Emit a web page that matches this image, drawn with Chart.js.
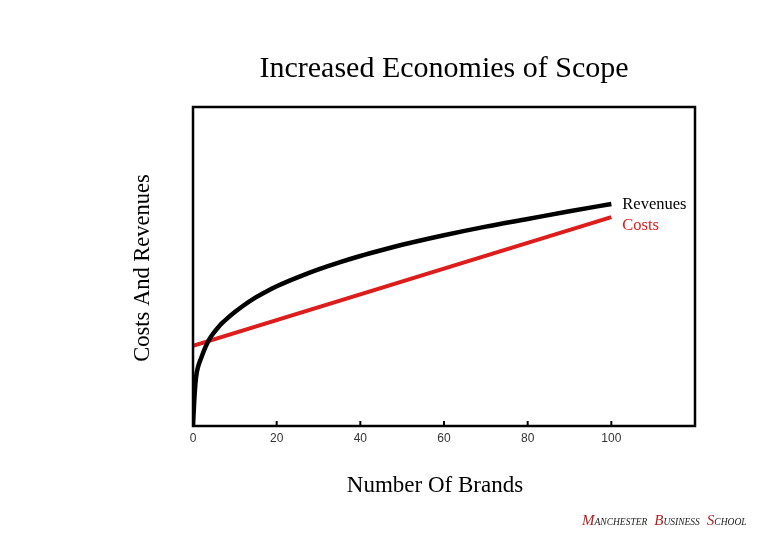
<!DOCTYPE html>
<html><head><meta charset="utf-8">
<script src="https://cdn.jsdelivr.net/npm/chart.js@4.4.1/dist/chart.umd.min.js"></script>
<style>html,body{margin:0;padding:0;background:#fff}#w{width:780px;height:540px}</style>
</head><body><div id="w"><canvas id="c" width="780" height="540"></canvas></div>
<script>
const brands = [0, 0.3, 0.7, 1.2, 2, 3, 4, 5, 6, 7, 8, 10, 12, 15, 18, 20, 25, 30, 35, 40, 45, 50, 60, 70, 80, 90, 100];
const revenues = [0, 8, 15, 18.5, 21.5, 24.8, 27.4, 29.3, 30.9, 32.3, 33.5, 35.7, 37.7, 40.3, 42.5, 43.8, 46.6, 49.1, 51.3, 53.3, 55.1, 56.8, 59.8, 62.5, 64.9, 67.3, 69.6];
const costBrands = [0, 100];
const costs = [25.1, 65.5];
const xTicks = [0, 20, 40, 60, 80, 100];
const titleText = "Increased Economies of Scope";
const xTitle = "Number Of Brands";
const yTitle = "Costs And Revenues";
const seriesNames = ["Revenues", "Costs"];
const RED = "#dd1c1c";

const deco = {
  id: 'deco',
  afterDraw(chart) {
    const ctx = chart.ctx, a = chart.chartArea, xs = chart.scales.x;
    ctx.save();
    ctx.strokeStyle = '#000'; ctx.lineWidth = 2.5;
    ctx.strokeRect(a.left, a.top, a.right - a.left, a.bottom - a.top);
    ctx.lineWidth = 2;
    xTicks.forEach(v => { const px = xs.getPixelForValue(v); ctx.beginPath(); ctx.moveTo(px, a.bottom); ctx.lineTo(px, a.bottom - 5); ctx.stroke(); });
    ctx.fillStyle = '#000';
    ctx.textAlign = 'center'; ctx.textBaseline = 'middle';
    ctx.font = '30px "Liberation Serif"';
    ctx.fillText(titleText, (a.left + a.right) / 2, 69);
    ctx.font = '23px "Liberation Serif"';
    ctx.fillText(xTitle, 435, 486);
    ctx.font = '22.5px "Liberation Serif"';
    ctx.save(); ctx.translate(143, 268); ctx.rotate(-Math.PI / 2);
    ctx.fillText(yTitle, 0, 0); ctx.restore();
    // series labels
    const ys = chart.scales.y;
    ctx.textAlign = 'left';
    ctx.font = '16.5px "Liberation Serif"';
    ctx.fillStyle = '#000';
    ctx.fillText(seriesNames[0], xs.getPixelForValue(100) + 11, ys.getPixelForValue(revenues[revenues.length - 1]) + 1);
    ctx.fillStyle = RED;
    ctx.fillText(seriesNames[1], xs.getPixelForValue(100) + 11, ys.getPixelForValue(costs[costs.length - 1]) + 9);
    // footer
    let x = 582; const yb = 525;
    ctx.textBaseline = 'alphabetic';
    [["M", "ANCHESTER"], ["B", "USINESS"], ["S", "CHOOL"]].forEach(([c, r]) => {
      ctx.font = 'italic 15px "Liberation Serif"'; ctx.fillStyle = '#b02020';
      ctx.fillText(c, x, yb); x += ctx.measureText(c).width;
      ctx.font = 'italic 9.5px "Liberation Serif"'; ctx.fillStyle = '#222';
      ctx.fillText(r, x, yb); x += ctx.measureText(r).width + 7;
    });
    ctx.restore();
  }
};

new Chart(document.getElementById('c'), {
  type: 'line',
  data: {
    datasets: [
      { label: seriesNames[0], data: brands.map((b, i) => ({ x: b, y: revenues[i] })), borderColor: '#000', borderWidth: 4.5, pointRadius: 0, cubicInterpolationMode: 'monotone', fill: false },
      { label: seriesNames[1], data: costBrands.map((b, i) => ({ x: b, y: costs[i] })), borderColor: RED, borderWidth: 4, pointRadius: 0, fill: false }
    ]
  },
  options: {
    responsive: false, animation: false,
    layout: { padding: { left: 193, top: 107, right: 85, bottom: 94 } },
    plugins: { legend: { display: false }, tooltip: { enabled: false }, title: { display: false } },
    scales: {
      x: { type: 'linear', min: 0, max: 120,
        afterBuildTicks: s => { s.ticks = xTicks.map(v => ({ value: v })); },
        afterFit: s => { s.height = 20; },
        grid: { display: false, drawTicks: false }, border: { display: false },
        ticks: { padding: 5, color: '#333', font: { family: '"Liberation Sans"', size: 12 } } },
      y: { display: false, min: 0, max: 100 }
    }
  },
  plugins: [deco]
});
</script></body></html>
